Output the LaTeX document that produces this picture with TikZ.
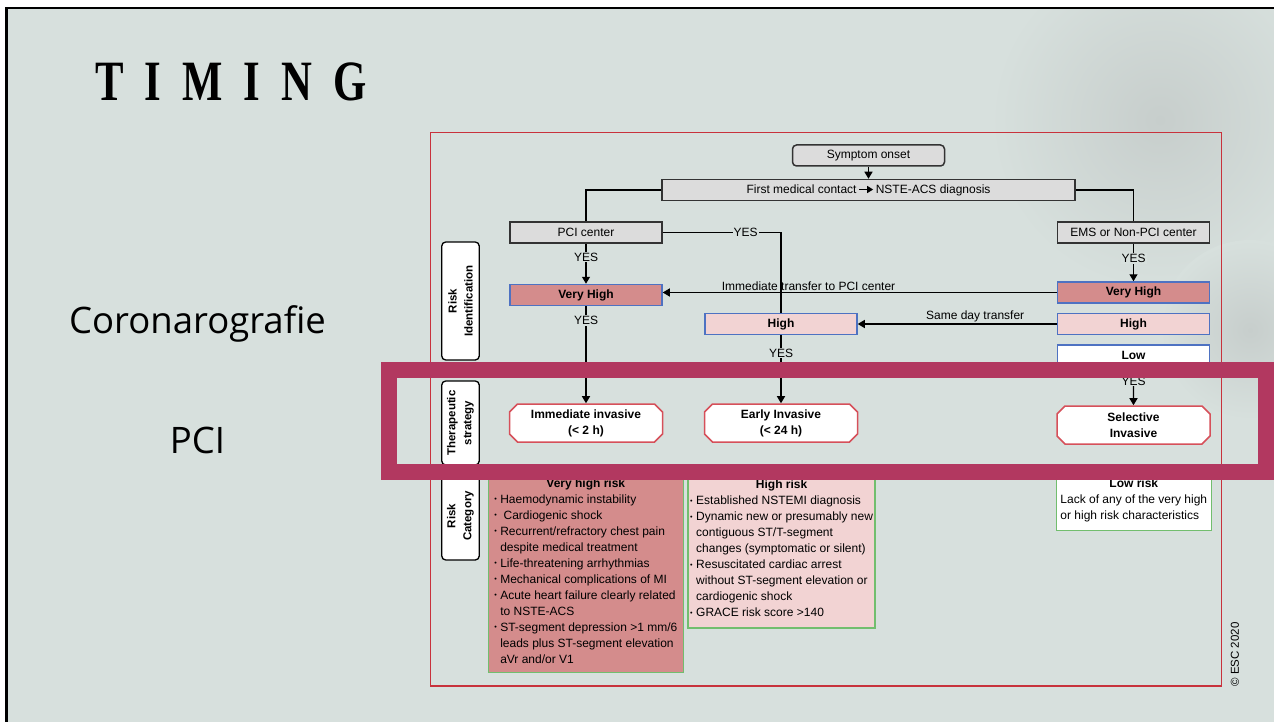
\documentclass[tikz,border=0pt]{standalone}
\usepackage{fontspec}
\setmainfont{Liberation Sans}
\newfontfamily\titlefont{Liberation Serif}
\newfontfamily\slidefont{Open Sans}
\usetikzlibrary{arrows.meta,positioning,shapes.misc,calc}

\definecolor{slidebg}{HTML}{D7E0DD}
\definecolor{shadowgray}{HTML}{C7CECC}
\definecolor{framered}{HTML}{C8323C}
\definecolor{bandred}{HTML}{B23860}
\definecolor{boxgray}{HTML}{DCDCDC}
\definecolor{vhfill}{HTML}{D48C8C}
\definecolor{hfill}{HTML}{F2D3D3}
\definecolor{riskblue}{HTML}{4E72C2}
\definecolor{catgreen}{HTML}{72BE6E}
\definecolor{stratred}{HTML}{D6505A}

\newcommand{\diag}{\fontsize{12}{16}\selectfont}
\newcommand{\sidetxt}{\fontsize{11.5}{16}\selectfont}
\newcommand{\itemdot}{\makebox[6pt][l]{\raisebox{1.6pt}{\scalebox{0.6}{\textbullet}}}}
\newcommand{\itemgap}{\hspace*{6pt}}

\begin{document}
\begin{tikzpicture}[x=1pt,y=-1pt,
    every node/.style={font=\diag},
    grey/.style={draw=black!80,line width=1.5pt,fill=boxgray,minimum width=152pt,minimum height=21pt,inner sep=0pt},
    risk/.style={draw=riskblue,line width=1.5pt,minimum width=152pt,minimum height=21pt,inner sep=0pt,font=\diag\bfseries},
    strat/.style={chamfered rectangle,chamfered rectangle xsep=4pt,chamfered rectangle ysep=4pt,draw=stratred,line width=1.5pt,fill=white,minimum width=153pt,minimum height=38pt,inner sep=0pt,align=center,font=\diag\bfseries},
    side/.style={draw,line width=1.3pt,fill=white,rounded corners=4pt,rotate=90,align=center,inner sep=0pt,minimum height=37.5pt,font=\sidetxt\bfseries},
    cat/.style={draw=catgreen,line width=1.5pt,anchor=south,inner sep=0pt},
    link/.style={line width=1.3pt},
    arr/.style={link,-{Triangle[width=8pt,length=7pt]}},
    yes/.style={fill=slidebg,inner sep=1pt}
  ]
    \useasboundingbox (0,0) rectangle (1274,722);

    % Slide background and frame
    \fill[white] (0,0) rectangle (1274,722);
    \fill[slidebg] (6.5,8) rectangle (1274,722);
    \begin{scope}
      \clip (6.5,8) rectangle (1274,722);
      \shade[inner color=shadowgray,outer color=slidebg] (1160,120) circle (170pt);
      \shade[inner color=shadowgray,outer color=slidebg] (1250,330) circle (90pt);
    \end{scope}
    \draw[line width=2.5pt] (6.5,722) -- (6.5,8) -- (1274,8);

    % Slide texts
    \node[anchor=base west,inner sep=0pt] (title) at (95,101) {\scalebox{0.75}[1]{\titlefont\bfseries\fontsize{57}{57}\selectfont T\hspace{28pt}I\hspace{28pt}M\hspace{28pt}I\hspace{28pt}N\hspace{28pt}G}};
    \node[anchor=base,inner sep=0pt,font=\slidefont\fontsize{36.5}{40}\selectfont] (coro) at (197.5,333) {Coronarografie};
    \node[anchor=base,inner sep=0pt,font=\slidefont\fontsize{36.5}{40}\selectfont] (pcitxt) at (197.5,453) {PCI};

    % Figure frame
    \draw[framered,line width=1.8pt] (430.5,132.5) rectangle (1221.5,686);

    % Top of the flow
    \node[grey,rounded corners=4pt] (onset) at (868.5,155.5) {Symptom onset};
    \node[grey,minimum width=413pt] (fmc) at (868.5,190) {First medical contact\,\tikz[baseline=-3.6pt]\draw[line width=1.2pt,-{Triangle[width=7pt,length=6pt]}] (0pt,0pt) -- (14pt,0pt);\,NSTE-ACS diagnosis};
    \node[grey] (pci) at (586,232.5) {PCI center};
    \node[grey] (ems) at (1133.5,232.5) {EMS or Non-PCI center};

    % Risk identification
    \node[risk,fill=vhfill] (vhpci) at (586,295) {Very High};
    \node[risk,fill=vhfill] (vhems) at (1133.5,292.5) {Very High};
    \node[risk,fill=hfill] (hpci) at (781,324) {High};
    \node[risk,fill=hfill] (hems) at (1133.5,324) {High};
    \node[risk,fill=white] (lowems) at (1133.5,355.5) {Low};

    % Therapeutic strategy
    \node[strat] (immed) at (586,423) {Immediate invasive\\(< 2 h)};
    \node[strat] (early) at (781,423) {Early Invasive\\(< 24 h)};
    \node[strat] (select) at (1133.5,425) {Selective\\Invasive};

    % Row labels
    \node[side,minimum width=118pt] (riskid) at (460.5,301) {Risk\\Identification};
    \node[side,minimum width=84pt] (therap) at (460.5,423) {Therapeutic\\strategy};
    \node[side,minimum width=88pt] (riskcat) at (460.5,516) {Risk\\Category};

    % Connectors
    \draw[arr] (onset) -- (fmc);
    \draw[link] (fmc.west) -| (pci.north);
    \draw[link] (fmc.east) -| (ems.north);
    \draw[arr] (pci) -- node[yes,pos=0.33] {YES} (vhpci);
    \draw[arr] (ems) -- node[yes,pos=0.39] {YES} (vhems);
    \draw[arr] (vhems.west) -- node[above,pos=0.63,inner sep=1.5pt] {Immediate transfer to PCI center} (vhems.west -| vhpci.east);
    \draw[arr] (hems) -- node[above,pos=0.41,inner sep=1.5pt] {Same day transfer} (hpci);
    \draw[link] (pci.east) -| node[yes,pos=0.35] {YES} (hpci.north);
    \draw[arr] (vhpci) -- node[yes,pos=0.145] {YES} (immed);
    \draw[arr] (hpci) -- node[yes,pos=0.26] {YES} (early);
    \draw[arr] (lowems) -- node[yes,pos=0.37] {YES} (select);

    % Risk category
    \node[cat,fill=vhfill,minimum width=195pt,minimum height=201pt] (vhcat) at (585.8,673.3) {\begin{tabular}{@{}l@{}}
      \multicolumn{1}{@{}c@{}}{\textbf{Very high risk}}\\
      \itemdot Haemodynamic instability\\
      \itemdot\ Cardiogenic shock\\
      \itemdot Recurrent/refractory chest pain\\
      \itemgap despite medical treatment\\
      \itemdot Life-threatening arrhythmias\\
      \itemdot Mechanical complications of MI\\
      \itemdot Acute heart failure clearly related\\
      \itemgap to NSTE-ACS\\
      \itemdot ST-segment depression >1 mm/6\\
      \itemgap leads plus ST-segment elevation\\
      \itemgap aVr and/or V1
    \end{tabular}};
    \node[cat,fill=hfill,minimum width=187pt,minimum height=156.5pt] (hcat) at (781.6,628.5) {\begin{tabular}{@{}l@{}}
      \multicolumn{1}{@{}c@{}}{\textbf{High risk}}\\
      \itemdot Established NSTEMI diagnosis\\
      \itemdot Dynamic new or presumably new\\
      \itemgap contiguous ST/T-segment\\
      \itemgap changes (symptomatic or silent)\\
      \itemdot Resuscitated cardiac arrest\\
      \itemgap without ST-segment elevation or\\
      \itemgap cardiogenic shock\\
      \itemdot GRACE risk score >140
    \end{tabular}};
    \node[cat,fill=white,minimum width=155pt,minimum height=59pt] (lowcat) at (1133.8,531) {\begin{tabular}{@{}l@{}}
      \multicolumn{1}{@{}c@{}}{\textbf{Low risk}}\\
      Lack of any of the very high\\
      or high risk characteristics
    \end{tabular}};

    \node[rotate=90,font=\fontsize{11.5}{14}\selectfont] (esc) at (1235,654.5) {© ESC 2020};

    % Highlight band over the strategy row
    \draw[bandred,line width=16pt] (389,370) rectangle (1266,472);
  \end{tikzpicture}
\end{document}
